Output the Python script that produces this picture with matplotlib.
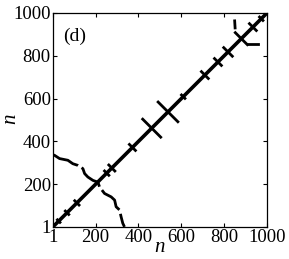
import matplotlib
matplotlib.use("Agg")
import matplotlib.pyplot as plt
import numpy as np

# main diagonal (i == j)
diag = [1, 1000]

# crossing branch in the lower-left corner
branch_x = [1, 9, 32, 71, 94, 118, 141, 149, 164, 188, 211, 219, 242, 273, 289, 296, 312, 319, 327, 335]
branch_y = [338, 335, 320, 312, 296, 288, 273, 250, 234, 218, 210, 187, 157, 141, 126, 95, 80, 49, 18, 1]

# short perpendicular arms along the diagonal: centre and half-length
cross_c = [28, 67, 113, 252, 276, 372, 462, 538, 609, 710, 771, 818, 880, 934, 973]
cross_h = [6, 8, 10, 10, 14, 14, 42, 46, 8, 16, 16, 20, 28, 16, 8]

# isolated dashes near the top-right
dash_x = [[849, 851], [912, 957]]
dash_y = [[963, 930], [857, 857]]

ticks = [1, 200, 400, 600, 800, 1000]

plt.rcParams["font.family"] = ["Liberation Serif", "DejaVu Serif"]

fig = plt.figure(figsize=(2.89, 2.59), dpi=100)
ax = fig.add_axes([0.183, 0.124, 0.741, 0.826])

ax.plot(diag, diag, color="black", lw=2.6, solid_capstyle="round")
ax.plot(branch_x, branch_y, color="black", lw=2.0, ls=(0, (10, 1.5)))
for c, h in zip(cross_c, cross_h):
    ax.plot([c - h, c + h], [c + h, c - h], color="black", lw=2.0)
for xs, ys in zip(dash_x, dash_y):
    ax.plot(xs, ys, color="black", lw=2.0)

ax.text(48, 892, "(d)", fontsize=14, va="center", ha="left")

ax.set_xlim(1, 1000)
ax.set_ylim(1, 1000)
ax.set_xticks(ticks)
ax.set_yticks(ticks)
ax.tick_params(direction="in", top=True, right=True, labelsize=13.5, length=3, pad=1.5)
for s in ax.spines.values():
    s.set_linewidth(0.9)

# axis labels placed by hand, the figure is tight on both edges
fig.text(0.553, 0.027, "n", fontsize=15, style="italic", ha="center", va="baseline")
fig.text(0.004, 0.54, "n", fontsize=15, style="italic", rotation=90,
         ha="left", va="center")

fig.savefig("out.png", dpi=100)
